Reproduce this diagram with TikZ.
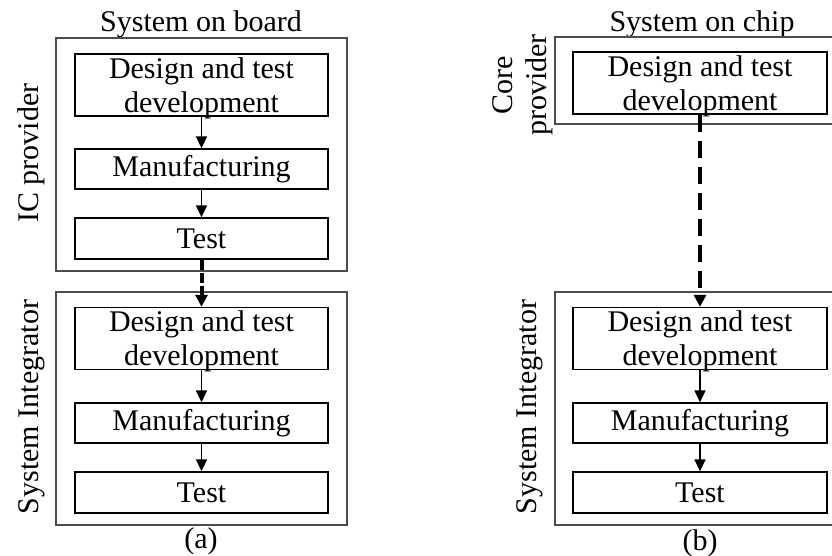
\documentclass[tikz,border=0pt]{standalone}
\usepackage{fontspec}
\setmainfont{Liberation Serif}
\usetikzlibrary{arrows.meta}
\begin{document}
\begin{tikzpicture}[x=1pt,y=-1pt,
  every node/.style={font=\fontsize{30}{34}\selectfont},
  stage/.style={draw=black, line width=1.3pt, inner sep=0pt, align=center},
  % two-line stage: text set a little below the box centre
  devstage/.style={stage, minimum height=62pt,
    label={[align=center, inner sep=0pt, yshift=-3pt]center:Design and test\\development}},
  party/.style={draw=black!70, line width=1.2pt, inner sep=0pt},
  flow/.style={line width=1.7pt, -{Triangle[width=11pt,length=12pt]}},
  handoff/.style={line width=4pt, -{Triangle[width=12pt,length=12pt]}},
  side/.style={rotate=90, align=center, inner sep=0pt}
]
\useasboundingbox (0,0) rectangle (832,556);
\clip (0,0) rectangle (832,556);

% ---- (a) system on board ----
\node[anchor=base] (ttla) at (201,32) {System on board};
\node[party, minimum width=291pt, minimum height=233pt] (ica) at (201.5,154.5) {};
\node[party, minimum width=291pt, minimum height=233pt] (sia) at (201.5,408.5) {};
\node[side] (icl) at (31,153) {IC provider};
\node[side] (sil) at (32,407) {System Integrator};

\node[devstage, minimum width=253pt] (d1) at (201.5,85) {};
\node[stage, minimum width=253pt, minimum height=40pt] (m1) at (201.5,169) {Manufacturing};
\node[stage, minimum width=253pt, minimum height=41pt] (t1) at (201.5,238.5) {Test};
\node[devstage, minimum width=253pt] (d2) at (201.5,338.5) {};
\node[stage, minimum width=253pt, minimum height=40pt] (m2) at (201.5,423) {Manufacturing};
\node[stage, minimum width=253pt, minimum height=41pt] (t2) at (201.5,492.5) {Test};

\draw[flow] (d1.south) -- (m1.north);
\draw[flow] (m1.south) -- (t1.north);
\draw[handoff, dash pattern=on 10pt off 3pt] (t1.south) -- (d2.north);
\draw[flow] (d2.south) -- (m2.north);
\draw[flow] (m2.south) -- (t2.north);

\node (capa) at (201,541) {(a)};

% ---- (b) system on chip ----
\node[anchor=base] (ttlb) at (702,32) {System on chip};
\node[party, minimum width=315pt, minimum height=87pt] (cpb) at (712.5,80.5) {};
\node[party, minimum width=315pt, minimum height=233pt] (sib) at (712.5,408.5) {};
\node[side] (cpl) at (523,85) {Core\\provider};
\node[side] (sbl) at (530,407) {System Integrator};

\node[devstage, minimum width=254pt] (cd) at (700,83) {};
\node[devstage, minimum width=254pt] (d3) at (700,338.5) {};
\node[stage, minimum width=254pt, minimum height=40pt] (m3) at (700,423) {Manufacturing};
\node[stage, minimum width=254pt, minimum height=41pt] (t3) at (700,492.5) {Test};

\draw[handoff, line width=3.6pt, dash pattern=on 17pt off 9pt] (cd.south) -- (d3.north);
\draw[flow] (d3.south) -- (m3.north);
\draw[flow] (m3.south) -- (t3.north);

\node (capb) at (700,543) {(b)};
\end{tikzpicture}
\end{document}
